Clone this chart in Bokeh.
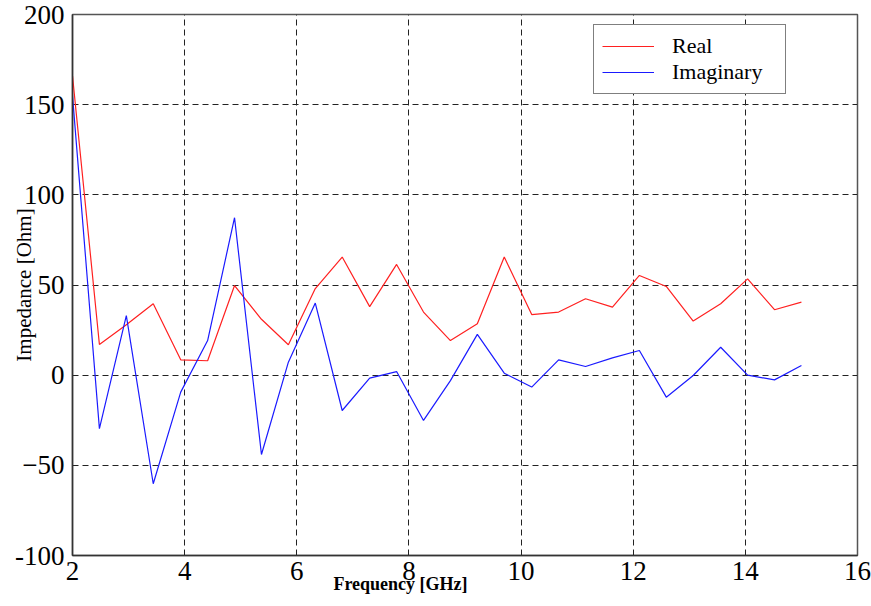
import math
from bokeh.plotting import figure
from bokeh.models import Legend, LegendItem, Label, FixedTicker, Range1d
from bokeh.embed import file_html
from bokeh.resources import INLINE

# ---- data ----
freq_ghz = [2.00, 2.48, 2.96, 3.44, 3.93, 4.41, 4.89, 5.37, 5.85, 6.33, 6.81, 7.30, 7.78, 8.26,
            8.74, 9.22, 9.70, 10.19, 10.67, 11.15, 11.63, 12.11, 12.59, 13.07, 13.56, 14.04, 14.52, 15.00]
real_ohm = [166, 17, 28, 39.6, 8.5, 8, 49.7, 31, 16.9, 48, 65.5, 38, 61.4, 35,
            19.2, 28.5, 65.5, 33.6, 35, 42.4, 37.7, 55.3, 49.2, 30, 39.6, 53.4, 36.3, 40.5]
imag_ohm = [155, -29.7, 33, -60.2, -9.4, 19.2, 87.3, -44, 7.2, 40, -19.6, -1.6, 2.0, -25.1,
            -3, 22.6, 1.1, -6.6, 8.5, 4.8, 9.6, 13.7, -12.2, -0.2, 15.5, 0, -2.6, 5.4]
x_ticks = [2, 4, 6, 8, 10, 12, 14, 16]
y_ticks = [-100, -50, 0, 50, 100, 150, 200]
y_tick_labels = {-100: "-100", -50: "\u221250", 0: "0", 50: "50", 100: "100", 150: "150", 200: "200"}

SERIF = "Liberation Serif"

p = figure(width=871, height=606, output_backend="svg", toolbar_location=None,
           x_range=Range1d(2, 16), y_range=Range1d(-100, 200),
           min_border_left=72, min_border_right=14, min_border_top=14, min_border_bottom=51)
p.background_fill_color = "white"
p.border_fill_color = "white"
p.outline_line_color = "#555555"
p.outline_line_width = 1.5

r_real = p.line(freq_ghz, real_ohm, line_color="#ff2020", line_width=1.2)
r_imag = p.line(freq_ghz, imag_ohm, line_color="#1a1aff", line_width=1.2)

p.axis.axis_line_color = "#333333"
p.axis.axis_line_width = 1.5
p.axis.major_tick_out = 0
p.axis.major_tick_in = 0
p.axis.minor_tick_out = 0
p.axis.minor_tick_in = 0
p.axis.major_label_text_font = SERIF
p.axis.major_label_text_font_size = "27px"
p.axis.major_label_text_color = "black"
p.xaxis.ticker = FixedTicker(ticks=x_ticks)
p.yaxis.ticker = FixedTicker(ticks=y_ticks)
p.yaxis.major_label_overrides = y_tick_labels
p.xaxis.major_label_standoff = 6
p.yaxis.major_label_standoff = 8

# y title as the axis label, pulled in next to the tick labels
p.yaxis.axis_label = "Impedance [Ohm]"
p.yaxis.axis_label_standoff = -24
p.yaxis.axis_label_text_font = SERIF
p.yaxis.axis_label_text_font_size = "21px"
p.yaxis.axis_label_text_font_style = "normal"
p.yaxis.axis_label_text_color = "black"

p.xgrid.grid_line_color = "#222222"
p.ygrid.grid_line_color = "#222222"
p.xgrid.grid_line_dash = "6 4"
p.ygrid.grid_line_dash = "6 4"

legend = Legend(items=[LegendItem(label="Real", renderers=[r_real]),
                       LegendItem(label="Imaginary", renderers=[r_imag])],
                location=(521, 461))
legend.label_text_font = SERIF
legend.label_text_font_size = "22px"
legend.label_text_color = "black"
legend.border_line_color = "black"
legend.border_line_width = 1.5
legend.background_fill_alpha = 1
legend.padding = 8
legend.margin = 0
legend.spacing = 0
legend.glyph_width = 52
legend.glyph_height = 16
legend.label_height = 16
legend.label_standoff = 18
legend.label_width = 105
p.add_layout(legend, "center")

# x title as a label in the bottom panel, placed under the 8 GHz tick like the reference
p.add_layout(Label(x=328, y=19, x_units="screen", y_units="screen",
                   text="Frequency [GHz]", text_font=SERIF, text_font_size="18px",
                   text_font_style="bold", text_align="center", text_baseline="middle",
                   text_color="black"), "below")

open("out.html", "w").write(file_html(p, INLINE))
